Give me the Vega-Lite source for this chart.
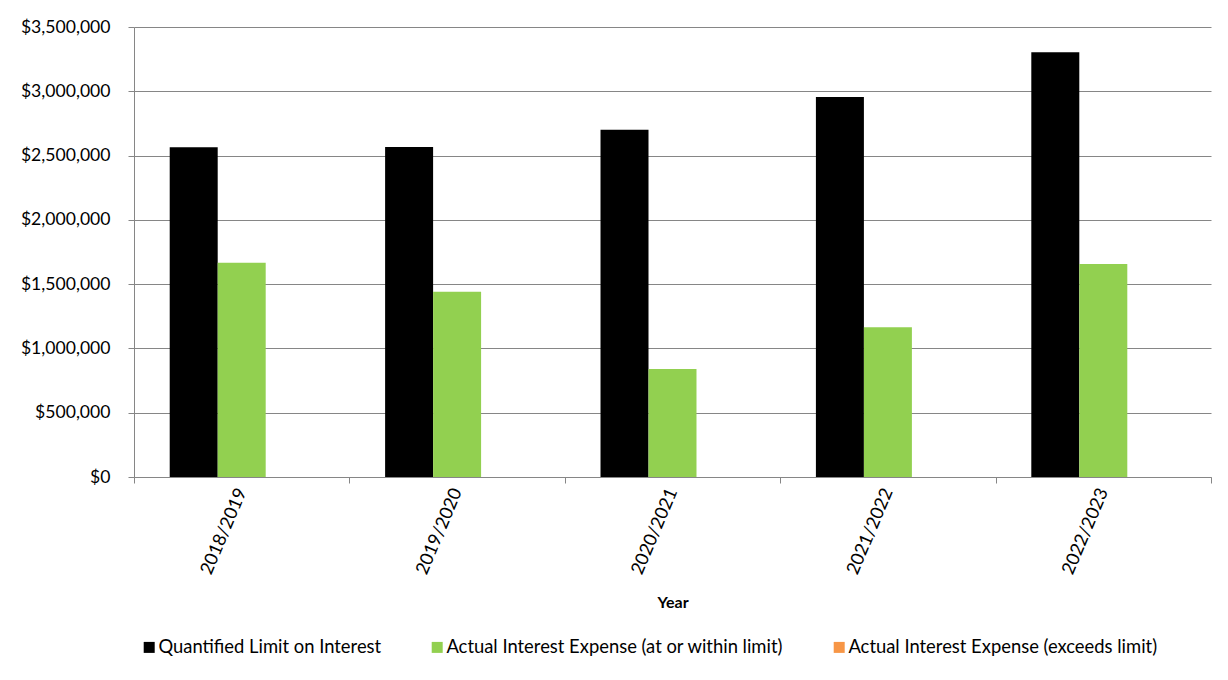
{
  "$schema": "https://vega.github.io/schema/vega-lite/v6.json",
  "autosize": {"type": "none"},
  "width": 1077,
  "height": 450,
  "padding": {"left": 134, "top": 27, "right": 17, "bottom": 203},
  "background": "white",
  "config": {
    "font": "Lato",
    "view": {"stroke": null}
  },
  "data": {
    "values": [
      {"year": "2018/2019", "series": "Quantified Limit on Interest", "value": 2565000},
      {"year": "2018/2019", "series": "Actual Interest Expense (at or within limit)", "value": 1667000},
      {"year": "2018/2019", "series": "Actual Interest Expense (exceeds limit)", "value": 0},
      {"year": "2019/2020", "series": "Quantified Limit on Interest", "value": 2566000},
      {"year": "2019/2020", "series": "Actual Interest Expense (at or within limit)", "value": 1441000},
      {"year": "2019/2020", "series": "Actual Interest Expense (exceeds limit)", "value": 0},
      {"year": "2020/2021", "series": "Quantified Limit on Interest", "value": 2701000},
      {"year": "2020/2021", "series": "Actual Interest Expense (at or within limit)", "value": 840000},
      {"year": "2020/2021", "series": "Actual Interest Expense (exceeds limit)", "value": 0},
      {"year": "2021/2022", "series": "Quantified Limit on Interest", "value": 2955000},
      {"year": "2021/2022", "series": "Actual Interest Expense (at or within limit)", "value": 1164000},
      {"year": "2021/2022", "series": "Actual Interest Expense (exceeds limit)", "value": 0},
      {"year": "2022/2023", "series": "Quantified Limit on Interest", "value": 3303000},
      {"year": "2022/2023", "series": "Actual Interest Expense (at or within limit)", "value": 1657000},
      {"year": "2022/2023", "series": "Actual Interest Expense (exceeds limit)", "value": 0}
    ]
  },
  "mark": {"type": "bar"},
  "encoding": {
    "x": {
      "field": "year",
      "type": "nominal",
      "sort": null,
      "scale": {"paddingInner": 0, "paddingOuter": 0},
      "axis": {
        "title": "Year",
        "titleFont": "Lato",
        "titleFontSize": 16,
        "titleFontWeight": "bold",
        "titleColor": "black",
        "titlePadding": 18,
        "labelAngle": -67,
        "labelAlign": "right",
        "labelBaseline": "middle",
        "labelFontSize": 18,
        "labelColor": "black",
        "labelPadding": 6,
        "domainColor": "#868686",
        "tickColor": "#868686",
        "tickSize": 6,
        "tickBand": "extent"
      }
    },
    "xOffset": {
      "field": "series",
      "type": "nominal",
      "sort": ["Quantified Limit on Interest", "Actual Interest Expense (at or within limit)", "Actual Interest Expense (exceeds limit)"],
      "scale": {"paddingInner": 0, "paddingOuter": 0.744}
    },
    "y": {
      "field": "value",
      "type": "quantitative",
      "scale": {"domain": [0, 3500000], "nice": false},
      "axis": {
        "title": null,
        "values": [0, 500000, 1000000, 1500000, 2000000, 2500000, 3000000, 3500000],
        "format": "$,.0f",
        "labelFontSize": 17.6,
        "labelColor": "black",
        "labelPadding": 18,
        "gridColor": "#868686",
        "gridWidth": 1,
        "domainColor": "#868686",
        "tickColor": "#868686",
        "tickSize": 6
      }
    },
    "fill": {
      "field": "series",
      "type": "nominal",
      "sort": ["Quantified Limit on Interest", "Actual Interest Expense (at or within limit)", "Actual Interest Expense (exceeds limit)"],
      "scale": {
        "domain": ["Quantified Limit on Interest", "Actual Interest Expense (at or within limit)", "Actual Interest Expense (exceeds limit)"],
        "range": ["#000000", "#92D050", "#F79646"]
      },
      "legend": {
        "title": null,
        "orient": "none",
        "direction": "horizontal",
        "legendX": 6,
        "legendY": 611,
        "symbolType": "square",
        "symbolSize": 121,
        "symbolStrokeWidth": 0,
        "symbolOpacity": 1,
        "labelFontSize": 18.4,
        "labelColor": "black",
        "labelOffset": 0,
        "labelLimit": 500,
        "columnPadding": 46
      }
    }
  }
}
